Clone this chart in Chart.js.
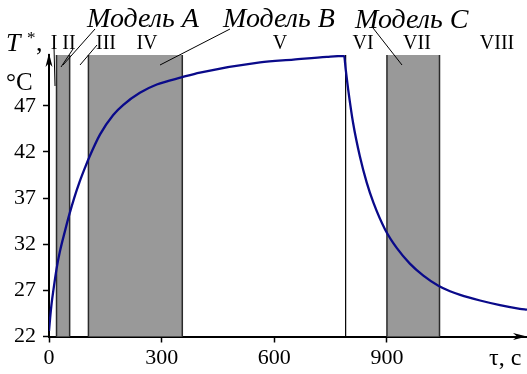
<!DOCTYPE html>
<html lang="ru">
<head>
<meta charset="utf-8">
<title>Т*(τ)</title>
<script src="https://cdn.jsdelivr.net/npm/chart.js@4.4.1/dist/chart.umd.min.js"></script>
<style>
    html, body { margin: 0; padding: 0; background: #fff; }
    canvas { display: block; }
</style>
</head>
<body>
<canvas id="grafica" width="527" height="374" style="width:527px;height:374px"></canvas>
<script>
// Время, с
const tiempo = [0, 3, 7, 12, 20, 29, 43, 54, 67, 81, 96, 107, 136, 171, 198, 242, 287, 355, 402, 562, 651, 740, 786,
    790, 797, 810, 828, 846, 864, 895, 926, 961, 997, 1037, 1068, 1095, 1148, 1201, 1254, 1273];
// Температура T*, °C
const temperatura = [22.6, 24.0, 25.6, 27.1, 29.3, 31.2, 33.5, 35.2, 37.0, 38.7, 40.3, 41.4, 43.9, 46.0, 47.1, 48.4, 49.3, 50.1, 50.6, 51.7, 52.0, 52.3, 52.4,
    51.0, 48.7, 45.1, 41.5, 38.7, 36.5, 33.6, 31.6, 29.9, 28.6, 27.5, 26.9, 26.5, 25.9, 25.4, 25.0, 24.9];

// Серые участки (модели A, B, C) и конец нагрева
const bandas = [[20, 55], [105, 355], [900, 1040]];
const finNagreva = 790;

const ticksX = [0, 300, 600, 900];
const ticksY = [22, 27, 32, 37, 42, 47];

const SERIF = '"Liberation Serif", "Times New Roman", serif';

// Полосы и вертикальная линия под кривой
const pluginBandas = {
    id: 'bandas',
    beforeDatasetsDraw(chart) {
        const { ctx, chartArea, scales } = chart;
        ctx.save();
        bandas.forEach(([a, b]) => {
            const x1 = scales.x.getPixelForValue(a);
            const x2 = scales.x.getPixelForValue(b);
            ctx.fillStyle = '#999999';
            ctx.fillRect(x1, chartArea.top, x2 - x1, chartArea.bottom - chartArea.top);
            ctx.strokeStyle = '#2a2a2a';
            ctx.lineWidth = 1.5;
            ctx.beginPath();
            ctx.moveTo(x1, chartArea.top); ctx.lineTo(x1, chartArea.bottom);
            ctx.moveTo(x2, chartArea.top); ctx.lineTo(x2, chartArea.bottom);
            ctx.stroke();
        });
        const xf = scales.x.getPixelForValue(finNagreva);
        ctx.strokeStyle = '#000';
        ctx.lineWidth = 1.2;
        ctx.beginPath();
        ctx.moveTo(xf, chartArea.top); ctx.lineTo(xf, chartArea.bottom);
        ctx.stroke();
        ctx.restore();
    }
};

function flecha(ctx, x, y, dx, dy) {
    // наконечник стрелки, острие в (x, y)
    const L = 14, W = 3.5, N = 10;
    const px = -dy, py = dx;
    ctx.beginPath();
    ctx.moveTo(x, y);
    ctx.lineTo(x - dx * L + px * W, y - dy * L + py * W);
    ctx.lineTo(x - dx * N, y - dy * N);
    ctx.lineTo(x - dx * L - px * W, y - dy * L - py * W);
    ctx.closePath();
    ctx.fill();
}

// Стрелки осей, подписи участков и выноски
const pluginTextos = {
    id: 'textos',
    afterDraw(chart) {
        const { ctx, chartArea } = chart;
        ctx.save();
        ctx.fillStyle = '#000';
        ctx.strokeStyle = '#000';
        flecha(ctx, chartArea.left, chartArea.top - 2, 0, -1);
        flecha(ctx, 527, chartArea.bottom, 1, 0);

        // выноски
        const lineas = [
            [54, 47, 55, 86],
            [95, 29, 63, 65],
            [73, 49, 61, 67],
            [97, 45, 80, 65],
            [230, 29, 160, 65],
            [373, 28, 402, 65]
        ];
        ctx.lineWidth = 1;
        ctx.beginPath();
        lineas.forEach(([x1, y1, x2, y2]) => { ctx.moveTo(x1, y1); ctx.lineTo(x2, y2); });
        ctx.stroke();

        ctx.textBaseline = 'alphabetic';
        ctx.textAlign = 'left';
        ctx.font = 'italic 28px ' + SERIF;
        ctx.fillText('Модель A', 87, 27);
        ctx.fillText('Модель B', 223, 27);
        ctx.fillText('Модель C', 355, 28);

        ctx.textAlign = 'center';
        ctx.font = '20px ' + SERIF;
        [['I', 54], ['II', 69], ['III', 106], ['IV', 147], ['V', 280], ['VI', 363], ['VII', 417], ['VIII', 497]]
            .forEach(([t, x]) => ctx.fillText(t, x, 49));

        ctx.textAlign = 'left';
        ctx.font = 'italic 26px ' + SERIF;
        ctx.fillText('T', 6, 51);
        ctx.font = '17px ' + SERIF;
        ctx.fillText('*', 27, 43);
        ctx.font = '26px ' + SERIF;
        ctx.fillText(',', 36, 51);
        ctx.font = '25px ' + SERIF;
        ctx.fillText('°C', 6, 90);
        ctx.font = '24px ' + SERIF;
        ctx.fillText('τ, с', 489, 365);
        ctx.restore();
    }
};

const ctx = document.getElementById('grafica');
const fuenteTicks = { family: SERIF, size: 22 };

new Chart(ctx, {
    type: 'line',
    data: {
        datasets: [{
            data: tiempo.map((t, i) => ({ x: t, y: temperatura[i] })),
            borderColor: '#0a0a8a',
            borderWidth: 2.3,
            pointRadius: 0,
            cubicInterpolationMode: 'monotone',
            fill: false
        }]
    },
    options: {
        responsive: false,
        animation: false,
        layout: { padding: { top: 55, right: 0, left: 0, bottom: 0 } },
        plugins: { legend: { display: false }, tooltip: { enabled: false } },
        scales: {
            x: {
                type: 'linear',
                min: 0,
                max: 1273,
                afterBuildTicks: s => { s.ticks = ticksX.map(v => ({ value: v })); },
                afterFit: s => { s.height = 37.5; },
                grid: { drawOnChartArea: false, tickLength: 6, tickColor: '#000', tickWidth: 1.5 },
                border: { color: '#000', width: 2 },
                ticks: { font: fuenteTicks, color: '#000', padding: 3, maxRotation: 0, autoSkip: false }
            },
            y: {
                min: 22,
                max: 52.5,
                afterBuildTicks: s => { s.ticks = ticksY.map(v => ({ value: v })); },
                afterFit: s => { s.width = 49; },
                grid: { drawOnChartArea: false, tickLength: 6, tickColor: '#000', tickWidth: 1.5 },
                border: { color: '#000', width: 2 },
                ticks: { font: fuenteTicks, color: '#000', padding: 7 }
            }
        }
    },
    plugins: [pluginBandas, pluginTextos]
});
</script>
</body>
</html>
